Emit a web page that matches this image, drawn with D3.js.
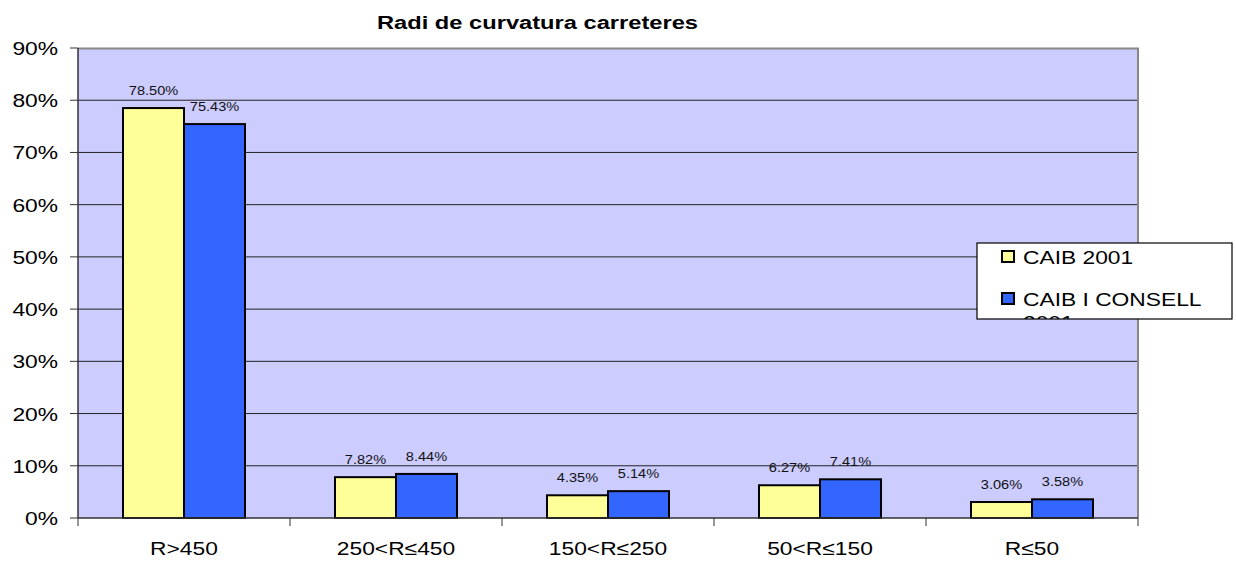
<html>
<head>
<script src="https://d3js.org/d3.v7.min.js"></script>
<style>
  body { margin: 0; background: #fff; }
  text { font-family: "Liberation Sans", Arial, sans-serif; }
</style>
</head>
<body>
<svg id="chart" width="1236" height="561"></svg>
<script>
// data
const categories = ["R>450", "250<R\u2264450", "150<R\u2264250", "50<R\u2264150", "R\u226450"];
const seriesNames = ["CAIB 2001", "CAIB I CONSELL 2001"];
const caib2001 = [78.50, 7.82, 4.35, 6.27, 3.06];
const caibConsell2001 = [75.43, 8.44, 5.14, 7.41, 3.58];
const yTicks = [0, 10, 20, 30, 40, 50, 60, 70, 80, 90];
const colors = ["#FFFF99", "#3366FF"];

// the original picture is stretched sideways, text too
const sx = 1.2;

const svg = d3.select("svg#chart");
const margins = {top: 48, right: 98, bottom: 43, left: 78};
const chartWidth = 1236 - margins.left - margins.right;
const chartHeight = 561 - margins.top - margins.bottom;

const x = d3.scaleBand().domain(categories).range([0, chartWidth]).paddingInner(0).paddingOuter(0);
const xInner = d3.scaleBand().domain(seriesNames).range([45, x.bandwidth() - 45]);
const y = d3.scaleLinear().domain([0, 90]).range([chartHeight, 0]);

// helper: text stretched horizontally around its anchor
function label(parent, tx, ty, str, size, anchor, scale) {
  return parent.append("g").attr("transform", `translate(${tx},${ty}) scale(${scale || sx},1)`)
    .append("text").attr("text-anchor", anchor || "start")
    .attr("font-size", size).attr("fill", "#000").text(str);
}

const g = svg.append("g").attr("transform", `translate(${margins.left},${margins.top})`);

// plot area
g.append("rect").attr("width", chartWidth).attr("height", chartHeight).attr("fill", "#CCCCFF");

// gridlines
g.append("g").selectAll("line").data(yTicks.slice(1, -1)).join("line")
  .attr("x1", 0).attr("x2", chartWidth)
  .attr("y1", d => y(d)).attr("y2", d => y(d))
  .attr("stroke", "#222").attr("stroke-width", 1);

// top and right border
g.append("path")
  .attr("d", `M0,0.5H${chartWidth}V${chartHeight}`)
  .attr("fill", "none").attr("stroke", "#888").attr("stroke-width", 2);

// bars
const rows = categories.map((c, i) => ({cat: c, vals: [caib2001[i], caibConsell2001[i]]}));
const grp = g.selectAll("g.cat").data(rows).join("g").attr("class", "cat")
  .attr("transform", d => `translate(${x(d.cat)},0)`);

grp.selectAll("rect").data(d => d.vals.map((v, j) => ({v, s: seriesNames[j], j}))).join("rect")
  .attr("x", d => xInner(d.s))
  .attr("width", xInner.bandwidth())
  .attr("y", d => y(d.v))
  .attr("height", d => chartHeight - y(d.v))
  .attr("fill", d => colors[d.j])
  .attr("stroke", "#000").attr("stroke-width", 2);

grp.each(function(d) {
  const gg = d3.select(this);
  d.vals.forEach((v, j) => {
    label(gg, xInner(seriesNames[j]) + xInner.bandwidth() / 2, y(v) - 13,
      v.toFixed(2) + "%", 13, "middle", 1.12).attr("fill", "#111");
  });
});

// y axis
g.append("line").attr("x1", 0).attr("x2", 0).attr("y1", 0).attr("y2", chartHeight)
  .attr("stroke", "#333").attr("stroke-width", 1.5);
g.selectAll("line.ytk").data(yTicks).join("line").attr("class", "ytk")
  .attr("x1", -8).attr("x2", 0).attr("y1", d => y(d)).attr("y2", d => y(d))
  .attr("stroke", "#333");
yTicks.forEach(t => label(g, -20, y(t) + 7, t + "%", 19, "end"));

// x axis
const xb = g.append("g").attr("transform", `translate(0,${chartHeight})`);
xb.append("line").attr("x1", 0).attr("x2", chartWidth).attr("stroke", "#333").attr("stroke-width", 1.5);
const tickPos = categories.map(c => x(c)).concat([chartWidth]);
xb.selectAll("line.tk").data(tickPos).join("line").attr("class", "tk")
  .attr("x1", d => d).attr("x2", d => d).attr("y1", 0).attr("y2", 8)
  .attr("stroke", "#333");
categories.forEach(c => label(xb, x(c) + x.bandwidth() / 2, 37, c, 19, "middle"));

// title
svg.append("text").attr("x", 377).attr("y", 29)
  .attr("textLength", 321).attr("lengthAdjust", "spacingAndGlyphs")
  .attr("font-size", 18).attr("font-weight", "bold").attr("fill", "#000")
  .text("Radi de curvatura carreteres");

// legend
const lg = svg.append("g").attr("transform", "translate(977,243)");
svg.append("clipPath").attr("id", "lclip").append("rect")
  .attr("x", 0).attr("y", 0).attr("width", 255).attr("height", 76);
lg.append("rect").attr("width", 255).attr("height", 76).attr("fill", "#fff")
  .attr("stroke", "#000").attr("stroke-width", 1.2);
const items = lg.append("g").attr("clip-path", "url(#lclip)");
const legendLines = [["CAIB 2001"], ["CAIB I CONSELL", "2001"]];
seriesNames.forEach((s, i) => {
  const yy = 8 + i * 42;
  items.append("rect").attr("x", 25).attr("y", yy).attr("width", 12).attr("height", 11)
    .attr("fill", colors[i]).attr("stroke", "#000").attr("stroke-width", 2);
  legendLines[i].forEach((ln, k) => label(items, 46, yy + 13 + k * 23, ln, 19, "start"));
});
</script>
</body>
</html>
